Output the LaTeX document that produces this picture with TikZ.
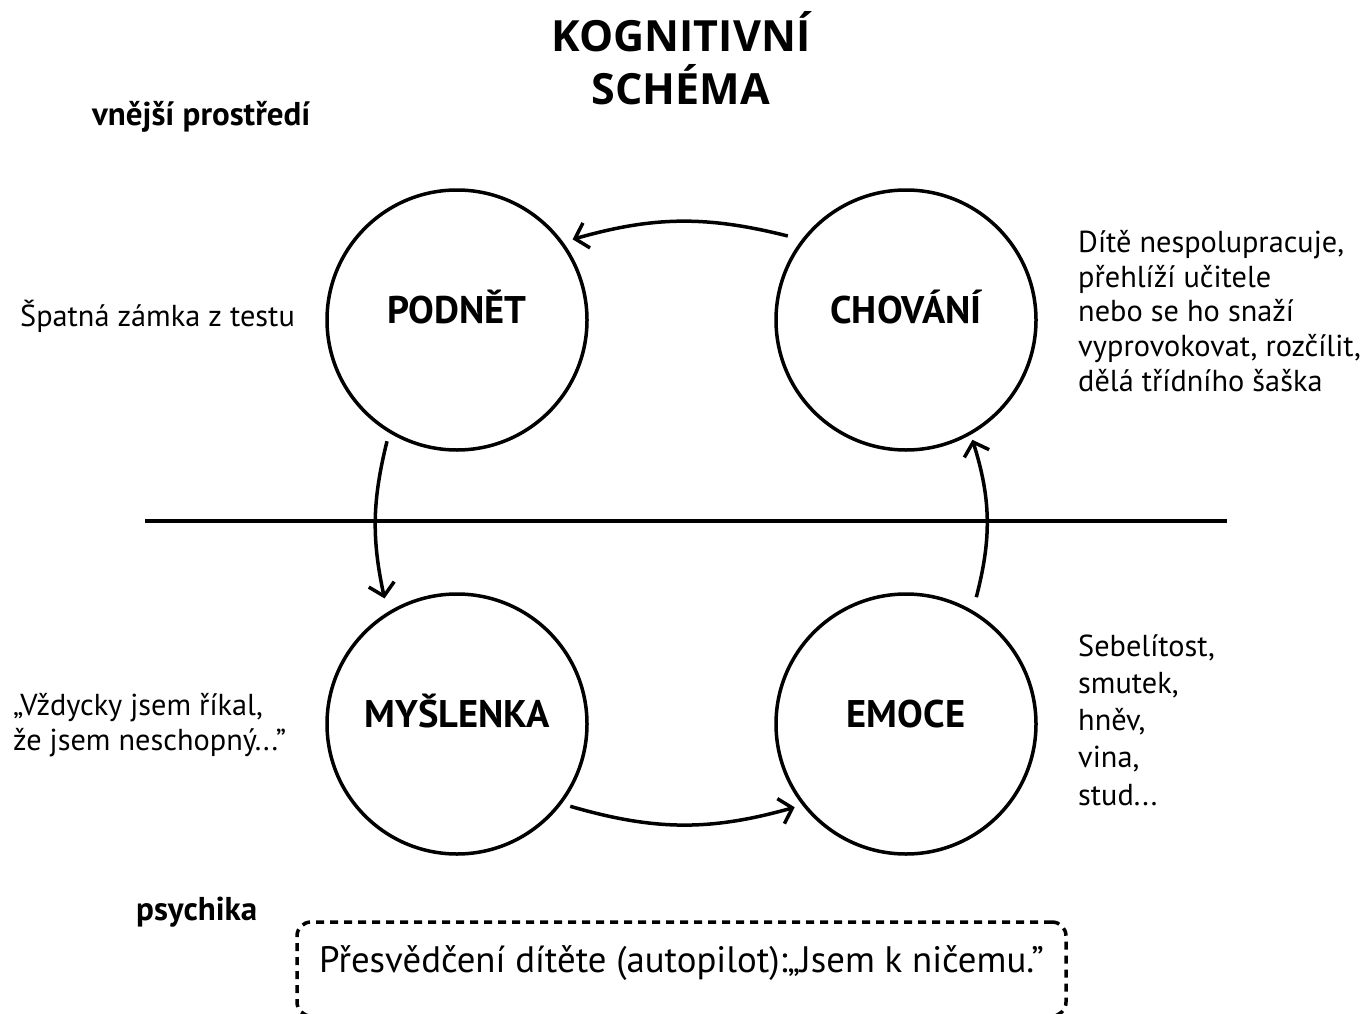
\documentclass[tikz,border=0pt]{standalone}
\usepackage{fontspec}
\setmainfont{PT Sans}
\newfontfamily\titlefont{Open Sans}
\usetikzlibrary{arrows.meta,calc}
\begin{document}
\begin{tikzpicture}[x=1pt,y=-1pt,
  circ/.style={circle,draw,line width=3.5pt,minimum size=260pt,inner sep=0pt,
    font=\fontsize{38.5}{44}\selectfont\bfseries,text height=0.7em,text depth=0pt},
  sidetxt/.style={font=\fontsize{30.3}{34.6}\selectfont,align=left,anchor=base west,inner sep=0pt},
  headtxt/.style={font=\fontsize{33}{38}\selectfont\bfseries,anchor=base west,inner sep=0pt},
  titletxt/.style={font=\titlefont\fontsize{43}{50}\selectfont\bfseries,anchor=base,inner sep=0pt},
  arr/.style={line width=3.5pt,-{Straight Barb[length=12pt,width=26pt]}},
  dbox/.style={draw,line width=3.5pt,dash pattern=on 8pt off 6pt,rounded corners=14pt,
    minimum width=769pt,minimum height=94pt,font=\fontsize{36.8}{42}\selectfont,
    text height=0.7em,text depth=0pt}
]
\useasboundingbox (0,0) rectangle (1360,1014);

\node[titletxt] (t1) at (681,52) {KOGNITIVNÍ};
\node[titletxt] (t2) at (681,105) {SCHÉMA};
\node[headtxt] (outer) at (92,126) {vnější prostředí};
\node[headtxt] (inner) at (136,920) {psychika};

\node[circ] (pod) at (457,320) {PODNĚT};
\node[circ] (chov) at (906,320) {CHOVÁNÍ};
\node[circ] (mysl) at (457,724) {MYŠLENKA};
\node[circ] (emo) at (906,724) {EMOCE};

\node[sidetxt] (stim) at (20,326) {Špatná zámka z testu};
\node[sidetxt] (beh) at (1078,391) {Dítě nespolupracuje,\\přehlíží učitele\\nebo se ho snaží\\vyprovokovat, rozčílit,\\dělá třídního šaška};
\node[sidetxt,font=\fontsize{30.3}{37.2}\selectfont] (emot) at (1078,805) {Sebelítost,\\smutek,\\hněv,\\vina,\\stud...};
\node[sidetxt,font=\fontsize{30.3}{35}\selectfont] (thought) at (13,750) {„Vždycky jsem říkal,\\že jsem neschopný...”};

\draw[line width=3.5pt] (145,521) coordinate (l1) -- (1227,521) coordinate (l2);

\coordinate (a1s) at ($(chov)+(144.6:145pt)$);
\coordinate (a1e) at ($(pod)+(34.9:141pt)$);
\coordinate (a2s) at ($(pod)+(240:140pt)$);
\coordinate (a2e) at ($(mysl)+(120:145pt)$);
\coordinate (a3s) at ($(mysl)+(-36:140pt)$);
\coordinate (a3e) at ($(emo)+(216.8:139pt)$);
\coordinate (a4s) at ($(emo)+(61:145pt)$);
\coordinate (a4e) at ($(chov)+(-61:137pt)$);

\draw[arr] (a1s) to[bend right=15] (a1e);
\draw[arr] (a2s) to[bend right=13] (a2e);
\draw[arr] (a3s) to[bend right=16] (a3e);
\draw[arr] (a4s) to[bend right=16] (a4e);

\node[dbox] (belief) at (681.5,969) {Přesvědčení dítěte (autopilot):„Jsem k ničemu.”};
\end{tikzpicture}
\end{document}
